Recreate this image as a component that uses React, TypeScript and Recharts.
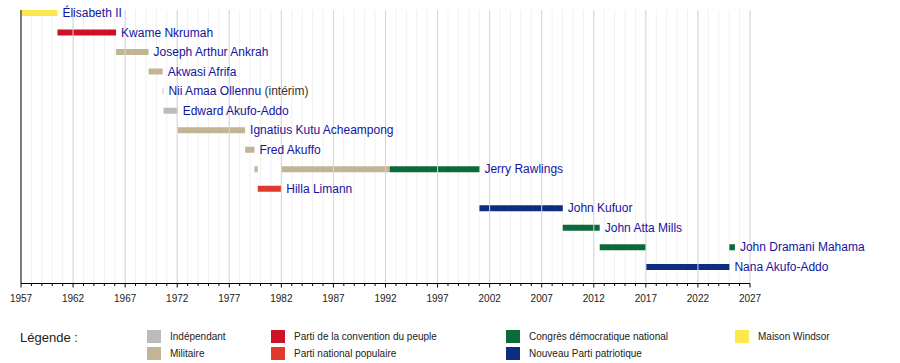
import { BarChart, Bar, XAxis, YAxis, CartesianGrid, ReferenceLine, LabelList, Cell } from 'recharts';

// one row per person, top to bottom
const ROW_NAMES = [
  'Élisabeth II',
  'Kwame Nkrumah',
  'Joseph Arthur Ankrah',
  'Akwasi Afrifa',
  'Nii Amaa Ollennu',
  'Edward Akufo-Addo',
  'Ignatius Kutu Acheampong',
  'Fred Akuffo',
  'Jerry Rawlings',
  'Hilla Limann',
  'John Kufuor',
  'John Atta Mills',
  'John Dramani Mahama',
  'Nana Akufo-Addo',
];
const ROW_NOTES = ['', '', '', '', '(intérim)', '', '', '', '', '', '', '', '', ''];

// terms (a row can hold several)
const TERM_ROW = [0, 1, 2, 3, 4, 5, 6, 7, 8, 8, 8, 9, 10, 11, 12, 12, 13];
const TERM_START = [1957.1, 1960.5, 1966.13, 1969.25, 1970.6, 1970.68, 1972.04, 1978.52, 1979.42, 1981.99, 1992.4, 1979.73, 2001.02, 2009.02, 2012.57, 2025.02, 2017.02];
const TERM_END = [1960.5, 1966.13, 1969.25, 1970.6, 1970.68, 1972.04, 1978.52, 1979.42, 1979.73, 1992.4, 2001.02, 1981.99, 2009.02, 2012.57, 2017.02, 2025.55, 2025.02];
const TERM_PARTY = ['windsor', 'cpp', 'mil', 'mil', 'ind', 'ind', 'mil', 'mil', 'mil', 'mil', 'ndc', 'pnp', 'npp', 'ndc', 'ndc', 'ndc', 'npp'];

const PARTY_KEYS = ['ind', 'mil', 'cpp', 'pnp', 'ndc', 'npp', 'windsor'];
const PARTY_NAMES = [
  'Indépendant',
  'Militaire',
  'Parti de la convention du peuple',
  'Parti national populaire',
  'Congrès démocratique national',
  'Nouveau Parti patriotique',
  'Maison Windsor',
];
const PARTY_COLORS = ['#bbbbbb', '#c2b494', '#ce1126', '#e0392d', '#0b6a3b', '#0d2d82', '#fce84f'];

const MAJOR_YEARS = [1957, 1962, 1967, 1972, 1977, 1982, 1987, 1992, 1997, 2002, 2007, 2012, 2017, 2022, 2027];
const ALL_YEARS = Array.from({ length: 2027 - 1957 + 1 }, (_, i) => 1957 + i);
const ROW_TICKS = ROW_NAMES.map((_, i) => i);

const FONT = '"Liberation Sans", Arial, sans-serif';
const LABEL_BLUE = '#1414a0';
const LEGEND_COL_X = [147, 271, 506, 735];

const colorOf = (party: string) => PARTY_COLORS[PARTY_KEYS.indexOf(party)];

// label goes on the last term of each row
const lastTermOfRow = ROW_NAMES.map((_, r) => {
  let best = -1;
  TERM_ROW.forEach((row, i) => {
    if (row === r && (best < 0 || TERM_END[i] > TERM_END[best])) best = i;
  });
  return best;
});

const data = TERM_ROW.map((row, i) => ({
  row,
  range: [TERM_START[i], TERM_END[i]],
  party: TERM_PARTY[i],
  label: lastTermOfRow[row] === i ? ROW_NAMES[row] : '',
  note: lastTermOfRow[row] === i ? ROW_NOTES[row] : '',
}));

function YearTick(props: any) {
  const { x, y, payload } = props;
  const major = MAJOR_YEARS.includes(payload.value);
  return (
    <g>
      <line x1={x} x2={x} y1={y} y2={y + (major ? 4 : 2.5)} stroke="#000" strokeWidth={1} />
      {major && (
        <text x={x} y={y + 18} textAnchor="middle" fontSize={10} fill="#222" fontFamily={FONT}>
          {payload.value}
        </text>
      )}
    </g>
  );
}

function NameLabel(props: any) {
  const { x, y, width, height, index } = props;
  const d = data[index];
  if (!d || !d.label) return null;
  return (
    <text x={Number(x) + Number(width) + 5} y={Number(y) + Number(height) / 2 + 4} fontSize={12} fontFamily={FONT} fill={LABEL_BLUE}>
      {d.label}
      {d.note && <tspan fill="#333"> {d.note}</tspan>}
    </text>
  );
}

export default function App() {
  return (
    <div style={{ position: 'relative', width: 900, height: 363, fontFamily: FONT, background: '#fff' }}>
      <style>{'body{margin:0}'}</style>
      <BarChart
        width={900}
        height={363}
        data={data}
        layout="vertical"
        margin={{ top: 10, right: 150, left: 21, bottom: 49.5 }}
        barSize={6}
      >
        <CartesianGrid horizontal={false} stroke="#f1f1f1" />
        <XAxis
          type="number"
          dataKey="range"
          domain={[1957, 2027]}
          ticks={ALL_YEARS}
          interval={0}
          allowDataOverflow
          height={30}
          tickSize={0}
          tickMargin={0}
          tickLine={false}
          axisLine={{ stroke: '#000' }}
          tick={<YearTick />}
        />
        <YAxis type="number" dataKey="row" domain={[-0.141, 13.863]} ticks={ROW_TICKS} hide allowDataOverflow />
        {MAJOR_YEARS.map((yr) => (
          <ReferenceLine key={yr} x={yr} stroke={yr === 1957 ? '#000' : '#d6d6d6'} />
        ))}
        <Bar dataKey="range" isAnimationActive={false}>
          {data.map((d, i) => (
            <Cell key={i} fill={colorOf(d.party)} />
          ))}
          <LabelList dataKey="label" content={<NameLabel />} />
        </Bar>
      </BarChart>

      <div style={{ position: 'absolute', left: 20, top: 330, fontSize: 13, color: '#222' }}>Légende :</div>
      {PARTY_KEYS.map((key, i) => {
        const col = Math.floor(i / 2);
        const rowIdx = i % 2;
        return (
          <div key={key} style={{ position: 'absolute', left: LEGEND_COL_X[col], top: 330 + rowIdx * 17, display: 'flex', alignItems: 'center' }}>
            <span style={{ width: 14, height: 13, background: PARTY_COLORS[i], display: 'inline-block' }} />
            <span style={{ marginLeft: 9, fontSize: 10, color: '#222' }}>{PARTY_NAMES[i]}</span>
          </div>
        );
      })}
    </div>
  );
}
